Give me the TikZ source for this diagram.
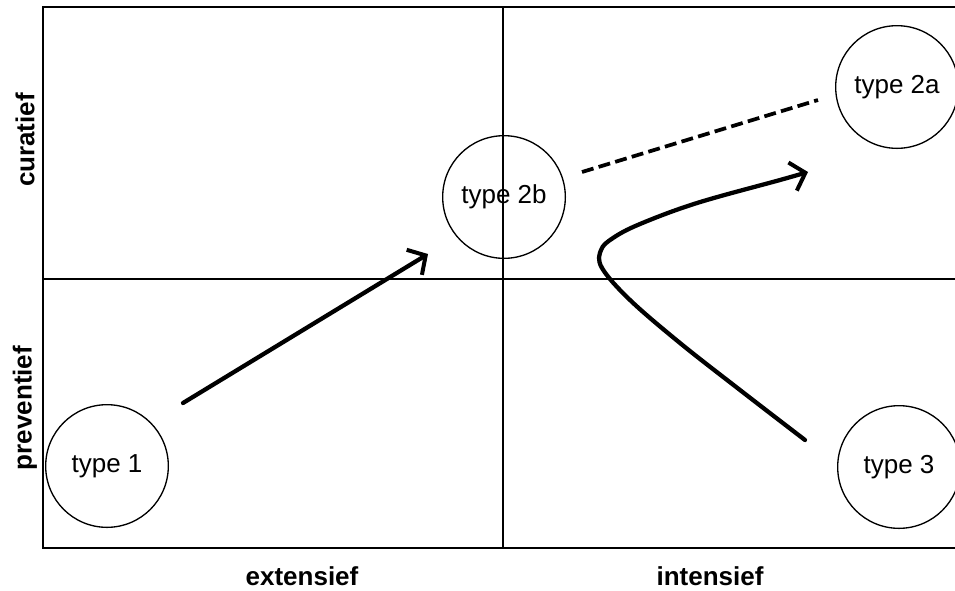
\documentclass[tikz,border=0pt]{standalone}
\usepackage{fontspec}
\setmainfont{Liberation Sans}
\usetikzlibrary{arrows.meta}
\begin{document}
\begin{tikzpicture}[x=0.75pt, y=-0.75pt,
    tipo/.style={draw, circle, line width=1pt, minimum size=92pt, inner sep=0pt, font=\fontsize{19.5}{22}\selectfont},
    eje/.style={font=\fontsize{19.5}{22}\selectfont\bfseries},
    flecha/.style={line width=3.2pt, line cap=round, -{Straight Barb[length=10pt,width=22pt,line width=3pt]}}]
    \useasboundingbox (0,0) rectangle (955,590);
    % Marco y cuadrantes
    \draw[line width=0.9pt] (955,7) -- (43,7) -- (43,548) -- (955,548);
    \draw[line width=0.9pt] (503,7) -- (503,548);
    \draw[line width=0.9pt] (43,279) -- (955,279);
    
    % Etiquetas de los ejes
    \node[eje] (ext) at (302,576) {extensief};
    \node[eje] (int) at (710,576) {intensief};
    \node[eje, rotate=90] (cur) at (25,140) {curatief};
    \node[eje, rotate=90] (pre) at (25,408) {preventief};
    
    % Tipos
    \node[tipo] (t1) at (107,466) {type 1};
    \node[tipo] (t2b) at (504,197) {type 2b};
    \node[tipo] (t2a) at (897,87) {type 2a};
    \node[tipo] (t3) at (899,467) {type 3};
    
    % Extremos de las flechas
    \coordinate (a1) at (183,403);
    \coordinate (a2) at (428,254);
    \coordinate (d1) at (582,172);
    \coordinate (d2) at (818,100);
    \coordinate (c1) at (805,440);
    \coordinate (c2) at (808,172);
    
    % Flecha recta de type 1 a type 2b
    \draw[flecha] (a1) -- (a2);
    
    % Linea punteada hacia type 2a
    \draw[line width=2.8pt, dash pattern=on 9pt off 4pt] (d1) -- (d2);
    
    % Curva de type 3 a type 2a
    \draw[flecha] plot[smooth, tension=0.6] coordinates {(c1) (740,390) (680,343) (630,300) (602,268) (601,250) (613,238) (640,224) (697,203) (780,180) (c2)};
\end{tikzpicture}
\end{document}
